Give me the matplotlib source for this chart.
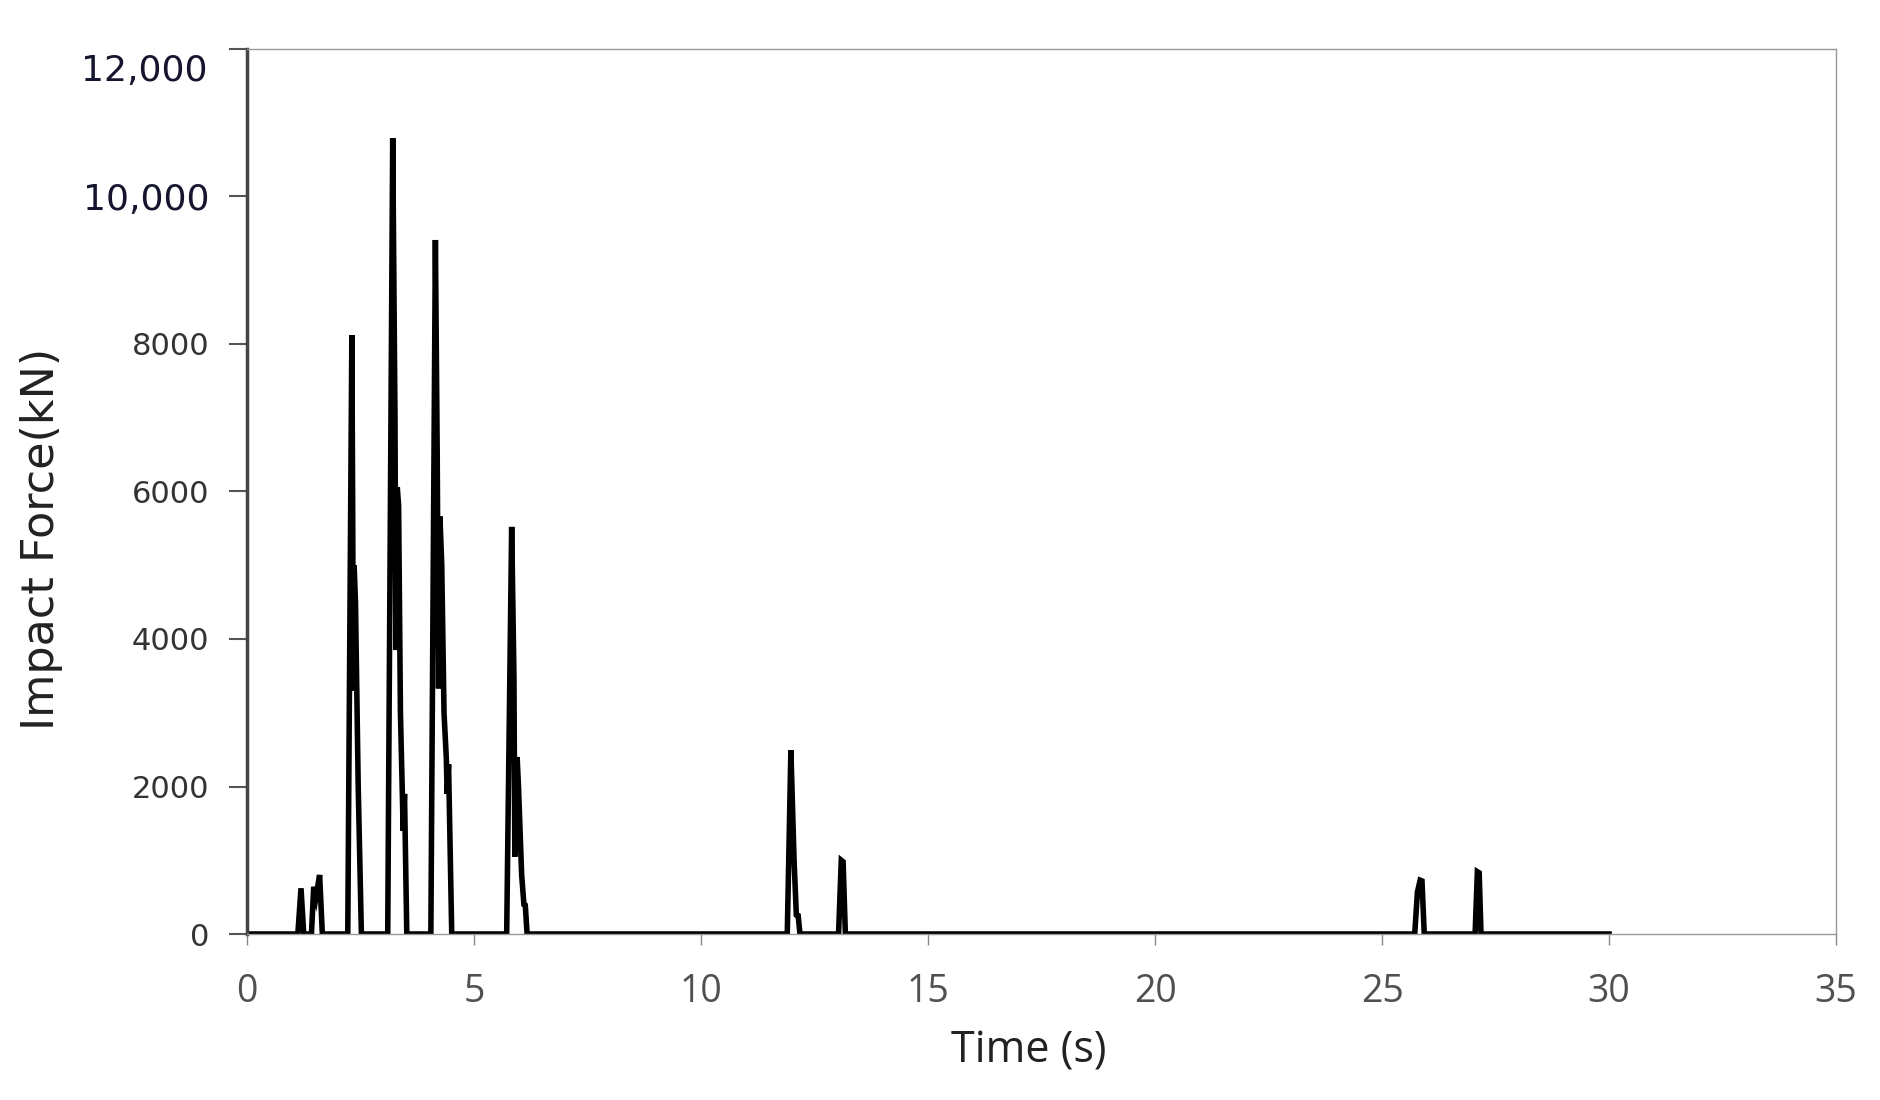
import matplotlib
matplotlib.use("Agg")
import matplotlib.pyplot as plt
import numpy as np

# impact force time history
time_s = [0.0, 1.12, 1.19, 1.25, 1.42, 1.47, 1.52, 1.60, 1.66,
          2.22, 2.31, 2.33, 2.34, 2.36, 2.39, 2.45, 2.52,
          3.10, 3.21, 3.26, 3.28, 3.31, 3.34, 3.38, 3.42, 3.44, 3.47, 3.52,
          4.05, 4.15, 4.19, 4.22, 4.25, 4.29, 4.34, 4.39, 4.41, 4.44, 4.51,
          5.72, 5.83, 5.88, 5.90, 5.95, 5.98, 6.05, 6.10, 6.13, 6.17,
          11.90, 11.98, 12.05, 12.10, 12.14, 12.18,
          13.03, 13.09, 13.13, 13.18,
          25.72, 25.78, 25.84, 25.88, 25.93,
          27.05, 27.10, 27.14, 27.18, 30.0]
force_kn = [0, 0, 620, 0, 0, 640, 500, 800, 0,
            0, 8120, 5500, 3300, 5000, 4500, 2000, 0,
            0, 10790, 7000, 3850, 6060, 5800, 3000, 1950, 1400, 1900, 0,
            0, 9410, 6500, 3330, 5660, 5000, 3000, 2390, 1900, 2300, 0,
            0, 5520, 3500, 1050, 2400, 2000, 800, 400, 390, 0,
            0, 2490, 1000, 260, 250, 0,
            0, 1000, 980, 0,
            0, 570, 730, 720, 0,
            0, 845, 830, 0, 0]

yticks = [0, 2000, 4000, 6000, 8000, 10000, 12000]
ytick_labels = ["0", "2000", "4000", "6000", "8000", "10,000", ""]
top_label = "12,000"
xticks = [0, 5, 10, 15, 20, 25, 30, 35]

fig = plt.figure(figsize=(18.81, 11), dpi=100)
ax = fig.add_axes([0.1313, 0.1509, 0.8448, 0.8046])

ax.plot(time_s, force_kn, color="black", lw=4, solid_joinstyle="miter")

ax.set_xlim(0, 35)
ax.set_ylim(0, 12000)
ax.set_xticks(xticks)
ax.set_xticklabels([str(x) for x in xticks], family="Open Sans", fontsize=27, color="#505050")
ax.set_yticks(yticks)
ax.set_yticklabels(ytick_labels, family="DejaVu Sans", fontsize=22, color="#333333")
ylabs = ax.get_yticklabels()
ylabs[-2].set_color("#15152e")
ylabs[-2].set_fontsize(26)

# top label sits a bit below its tick in the original
ax.annotate(top_label, xy=(0, 12000), xycoords="data",
            xytext=(-28.5, -16), textcoords="offset points",
            ha="right", va="center", family="DejaVu Sans", fontsize=26,
            color="#15152e", annotation_clip=False)

ax.tick_params(axis="y", direction="out", length=13, width=1.5, color="#555555", pad=14)
ax.tick_params(axis="x", direction="out", length=8, width=1, color="#888888", pad=20)

ax.spines["left"].set_color("#444444")
ax.spines["left"].set_linewidth(2.5)
for s in ["top", "right", "bottom"]:
    ax.spines[s].set_color("#999999")
    ax.spines[s].set_linewidth(1)

ax.set_xlabel("Time (s)", family="Open Sans", fontsize=31, color="#222222")
ax.xaxis.set_label_coords(0.492, -0.133)
ax.xaxis.label.set_va("center")
ax.set_ylabel("Impact Force(kN)", family=["Liberation Sans Narrow", "DejaVu Sans"], fontsize=32, color="#222222")
ax.yaxis.set_label_coords(-0.129, 0.446)
ax.yaxis.label.set_va("center")

plt.savefig("out.png", dpi=100)
